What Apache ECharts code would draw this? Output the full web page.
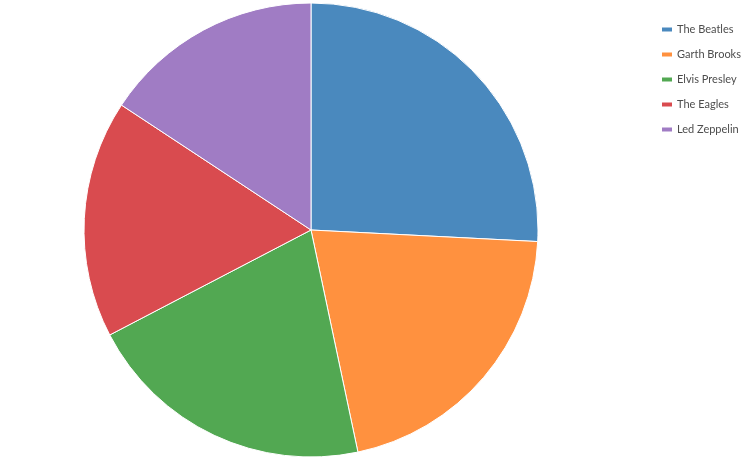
<!DOCTYPE html>
<html>
<head>
<meta charset="utf-8">
<script src="https://cdn.jsdelivr.net/npm/echarts@6/dist/echarts.min.js"></script>
<style>
  html, body { margin: 0; padding: 0; background: #fff; }
  #chart { width: 753px; height: 463px; }
</style>
</head>
<body>
<div id="chart"></div>
<script>
// artists and estimated values
const artists = ['The Beatles', 'Garth Brooks', 'Elvis Presley', 'The Eagles', 'Led Zeppelin'];
const units = [183, 148, 146.5, 120, 111.5];
const colors = ['#4a89be', '#ff913f', '#52a852', '#d94b4f', '#a07cc4'];

const chart = echarts.init(document.getElementById('chart'));
chart.setOption({
    animation: false,
    color: colors,
    legend: {
        orient: 'vertical',
        left: 657,
        top: 19,
        itemWidth: 10,
        itemHeight: 4,
        itemGap: 14,
        icon: 'rect',
        itemStyle: { borderWidth: 0 },
        textStyle: {
            color: '#4d4d4d',
            fontSize: 11,
            fontFamily: 'Lato'
        },
        data: artists
    },
    series: [
        {
            type: 'pie',
            center: [311, 230],
            radius: [0, 227],
            startAngle: 90,
            clockwise: true,
            label: { show: false },
            labelLine: { show: false },
            itemStyle: { borderColor: '#fff', borderWidth: 1 },
            data: artists.map((name, i) => ({ name, value: units[i] }))
        }
    ]
});
</script>
</body>
</html>
